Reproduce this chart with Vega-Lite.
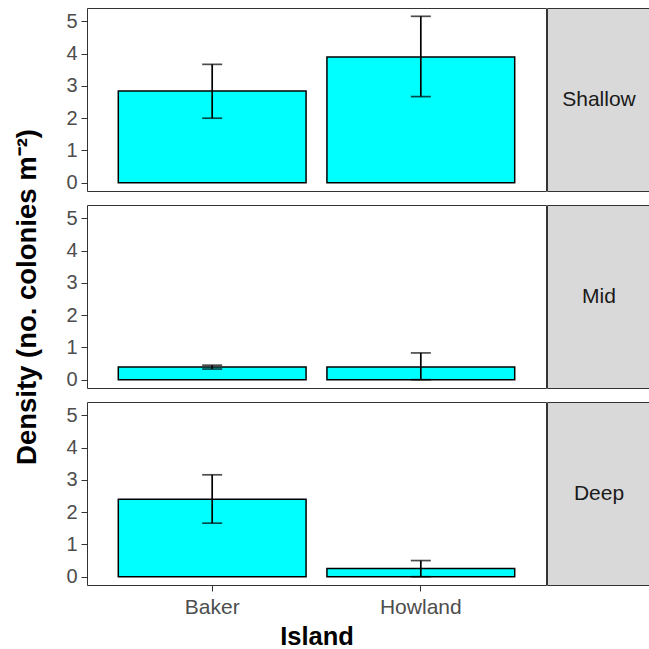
{
  "$schema": "https://vega.github.io/schema/vega-lite/v6.json",
  "padding": {"left": 13, "top": 7, "right": 0, "bottom": 0},
  "background": "white",
  "datasets": {
    "bars": [
      {"depth": "Shallow", "island": "Baker", "mean": 2.84, "lo": 2.0, "hi": 3.67},
      {"depth": "Shallow", "island": "Howland", "mean": 3.9, "lo": 2.67, "hi": 5.16},
      {"depth": "Mid", "island": "Baker", "mean": 0.39, "lo": 0.33, "hi": 0.45},
      {"depth": "Mid", "island": "Howland", "mean": 0.39, "lo": 0.0, "hi": 0.83},
      {"depth": "Deep", "island": "Baker", "mean": 2.4, "lo": 1.66, "hi": 3.16},
      {"depth": "Deep", "island": "Howland", "mean": 0.25, "lo": 0.0, "hi": 0.5}
    ],
    "strips": [
      {"depth": "Shallow"},
      {"depth": "Mid"},
      {"depth": "Deep"}
    ]
  },
  "spacing": -2,
  "config": {
    "axisY": {
      "labelOverlap": false,
      "domain": false,
      "grid": false,
      "tickSize": 6,
      "tickColor": "#333333",
      "labelFont": "Liberation Sans",
      "labelFontSize": 20,
      "labelColor": "#4d4d4d",
      "labelPadding": 4
    }
  },
  "hconcat": [
    {
      "data": {"name": "bars"},
      "bounds": "flush",
      "facet": {
        "row": {
          "field": "depth",
          "type": "nominal",
          "sort": ["Shallow", "Mid", "Deep"],
          "header": {
            "title": "Density (no. colonies m⁻²)",
            "labels": false,
            "titleFont": "Liberation Sans",
            "titleFontSize": 27.5,
            "titleFontWeight": "bold",
            "titleColor": "#000000",
            "titlePadding": 14,
            "titleOrient": "left"
          }
        }
      },
      "spacing": 14,
      "spec": {
        "width": 459,
        "height": 183,
        "view": {"stroke": "#333333", "strokeWidth": 1, "fill": "white"},
        "encoding": {
          "x": {
            "field": "island",
            "type": "nominal",
            "title": "Island",
            "scale": {"paddingInner": 0.1, "paddingOuter": 0.15},
            "axis": {
              "labelAngle": 0,
              "domain": false,
              "grid": false,
              "tickSize": 6,
              "tickColor": "#333333",
              "labelFont": "Liberation Sans",
              "labelFontSize": 21,
              "labelColor": "#4d4d4d",
              "labelPadding": 5,
              "titleFont": "Liberation Sans",
              "titleFontSize": 25.5,
              "titleFontWeight": "bold",
              "titleColor": "#000000",
              "titlePadding": 7
            }
          }
        },
        "layer": [
          {
            "mark": {"type": "bar", "fill": "#00FFFF", "stroke": "#000000", "strokeWidth": 1.5},
            "encoding": {
              "y": {
                "field": "mean",
                "type": "quantitative",
                "title": null,
                "scale": {"domain": [-0.258, 5.418], "nice": false, "zero": false},
                "axis": {"values": [0, 1, 2, 3, 4, 5], "labelOverlap": false}
              },
              "y2": {"datum": 0}
            }
          },
          {
            "mark": {"type": "rule", "color": "#000000", "strokeWidth": 1.7},
            "encoding": {
              "y": {"field": "lo", "type": "quantitative", "title": null, "axis": {"values": [0, 1, 2, 3, 4, 5], "labelOverlap": false}},
              "y2": {"field": "hi"}
            }
          },
          {
            "mark": {"type": "tick", "color": "#000000", "size": 20, "thickness": 1.7},
            "encoding": {
              "y": {"field": "lo", "type": "quantitative", "title": null, "axis": {"values": [0, 1, 2, 3, 4, 5], "labelOverlap": false}}
            }
          },
          {
            "mark": {"type": "tick", "color": "#000000", "size": 20, "thickness": 1.7},
            "encoding": {
              "y": {"field": "hi", "type": "quantitative", "title": null, "axis": {"values": [0, 1, 2, 3, 4, 5], "labelOverlap": false}}
            }
          }
        ]
      }
    },
    {
      "data": {"name": "strips"},
      "bounds": "flush",
      "facet": {
        "row": {"field": "depth", "type": "nominal", "sort": ["Shallow", "Mid", "Deep"], "header": null}
      },
      "spacing": 14,
      "spec": {
        "width": 104,
        "height": 183,
        "view": {"fill": "#d9d9d9", "stroke": "#333333", "strokeWidth": 1},
        "mark": {"type": "text", "font": "Liberation Sans", "fontSize": 21, "color": "#1a1a1a", "align": "center", "baseline": "middle"},
        "encoding": {
          "text": {"field": "depth", "type": "nominal"}
        }
      }
    }
  ]
}
